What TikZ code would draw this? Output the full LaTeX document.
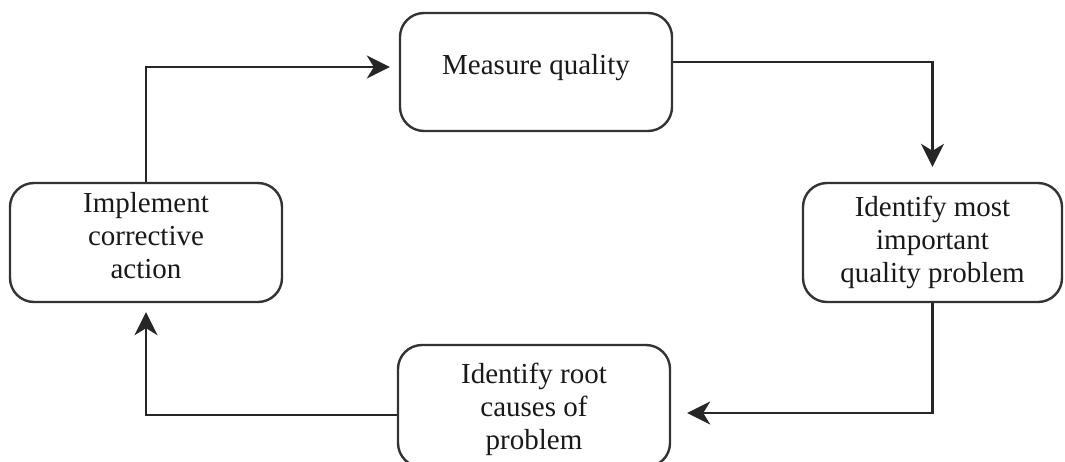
\documentclass[tikz,border=0pt]{standalone}
\usepackage{fontspec}
\setmainfont{Liberation Serif}
\usetikzlibrary{arrows.meta}
\begin{document}
\begin{tikzpicture}[x=1pt,y=-1pt,
  box/.style={draw=black!80, line width=2.4pt, rounded corners=24pt, align=center,
    font=\fontsize{29}{33}\selectfont, inner sep=0pt, text=black!90},
  conn/.style={draw=black!85, line width=2.2pt,
    -{Stealth[length=23pt,width=23pt,inset=7pt]}}]
\useasboundingbox (0,0) rectangle (1065,461);
\clip (0,0) rectangle (1065,461);
\node[box, minimum width=272pt, minimum height=118pt] (meas) at (536,72) {\raisebox{4pt}[\height][\depth]{Measure quality}};
\node[box, minimum width=272pt, minimum height=119pt] (impl) at (146,242.5) {\raisebox{4pt}[\height][\depth]{\begin{tabular}{@{}c@{}}Implement\\corrective\\action\end{tabular}}};
\node[box, minimum width=259pt, minimum height=119pt] (ident) at (932.5,242.5) {Identify most\\important\\quality problem};
\node[box, minimum width=272pt, minimum height=122pt] (root) at (534,406) {\raisebox{-4pt}[\height][\depth]{\begin{tabular}{@{}c@{}}Identify root\\causes of\\problem\end{tabular}}};
\draw[conn] (impl.north) |- ([xshift=-9pt,yshift=5pt]meas.west);
\draw[conn] ([yshift=10pt]meas.east) -| ([yshift=15pt]ident.north);
\draw[conn] (ident.south) |- ([xshift=16pt,yshift=-7pt]root.east);
\draw[conn] ([yshift=-9pt]root.west) -| ([yshift=-9pt]impl.south);
\end{tikzpicture}
\end{document}
